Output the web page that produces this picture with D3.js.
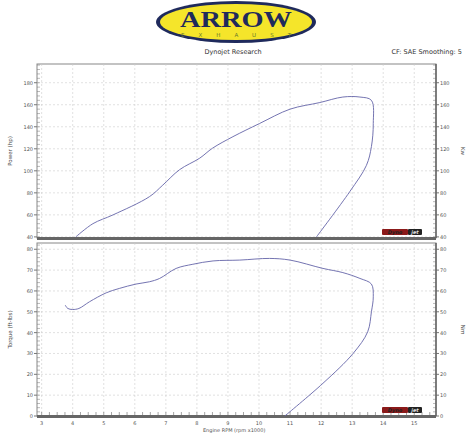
<!DOCTYPE html>
<html><head><meta charset="utf-8">
<script src="https://cdn.jsdelivr.net/npm/d3@7"></script>
<style>body{margin:0;background:#fff}svg{display:block}text{font-family:"DejaVu Sans",sans-serif}</style>
</head><body><div id="chart"></div>
<script>
// power curve (rpm x1000, hp), run up then return
const power_rpm = [4.1,4.65,5.3,6.47,6.9,7.44,8.09,8.5,9.16,10.02,11.0,11.96,12.7,13.25,13.62,13.68,13.62,13.46,12.92,11.85];
const power_hp  = [40,52,60,76.5,87,101,111.5,120.5,131,143,156,162,167,167,164,143,122,105,81,40];
// torque curve (rpm x1000, lb-ft)
const torque_rpm = [3.76,3.84,4.0,4.2,4.54,5.08,5.5,6.04,6.47,6.8,7.33,7.87,8.52,9.38,10.34,11.0,12.06,12.7,13.25,13.62,13.68,13.62,13.5,13.03,12.06,10.83];
const torque_lb  = [53.2,51.6,51.1,51.6,54.8,59.1,61.2,63.3,64.4,66,70.8,72.8,74.4,74.8,75.6,74.8,70.8,68.8,66,63.3,57.2,50,40.4,30,15.7,0];
const rpm_ticks = d3.range(3, 16);
const power_ticks = d3.range(40, 181, 20);
const torque_ticks = d3.range(0, 81, 10);

const W = 470, H = 440;
const svg = d3.select("#chart").append("svg").attr("width", W).attr("height", H);
const left = 37, right = 436;
const x = d3.scaleLinear().domain([2.85, 15.7]).range([left, right]);
const yP = d3.scaleLinear().domain([39, 197]).range([238, 64]);
const yT = d3.scaleLinear().domain([0, 83]).range([416, 243]);

// logo
const logo = svg.append("g").attr("transform", "translate(236,22)");
logo.append("ellipse").attr("rx", 80).attr("ry", 21).attr("fill", "#1f2a5c");
logo.append("ellipse").attr("rx", 76).attr("ry", 18).attr("fill", "#f5e52a");
logo.append("text").attr("y", 5).attr("text-anchor", "middle").style("font-family", "Liberation Serif")
  .attr("font-weight", "bold").attr("font-size", 24).attr("fill", "#1f2a5c").attr("textLength", 112)
  .attr("lengthAdjust", "spacingAndGlyphs").text("ARROW");
logo.append("text").attr("y", 15).attr("text-anchor", "middle").attr("font-size", 5.5).attr("fill", "#6b7a2a")
  .attr("textLength", 110).attr("lengthAdjust", "spacing").text("EXHAUST");

svg.append("text").attr("x", 233).attr("y", 54).attr("text-anchor", "middle").attr("font-size", 6.5).attr("fill", "#333").text("Dynojet Research");
svg.append("text").attr("x", 462).attr("y", 54).attr("text-anchor", "end").attr("font-size", 6.5).attr("fill", "#333").text("CF: SAE Smoothing: 5");

function panel(y, ticks, minor, rpms, vals, ylab, rlab, showX) {
  const g = svg.append("g");
  const [y0, y1] = y.range();
  g.append("rect").attr("x", left).attr("y", y1).attr("width", right - left).attr("height", y0 - y1)
    .attr("fill", "#fff").attr("stroke", "#888");
  g.selectAll(".vg").data(rpm_ticks).join("line").attr("x1", d => x(d)).attr("x2", d => x(d))
    .attr("y1", y1).attr("y2", y0).attr("stroke", "#ccc").attr("stroke-dasharray", "2 2").attr("stroke-width", 0.6);
  g.selectAll(".hg").data(ticks).join("line").attr("x1", left).attr("x2", right)
    .attr("y1", d => y(d)).attr("y2", d => y(d)).attr("stroke", "#ccc").attr("stroke-dasharray", "2 2").attr("stroke-width", 0.6);
  // minor ticks
  const mt = d3.range(y.domain()[0] - y.domain()[0] % minor + minor, y.domain()[1], minor);
  g.selectAll(".ml").data(mt).join("line").attr("x1", left).attr("x2", left + 3)
    .attr("y1", d => y(d)).attr("y2", d => y(d)).attr("stroke", "#777").attr("stroke-width", 0.5);
  g.selectAll(".mr").data(mt).join("line").attr("x1", right - 3).attr("x2", right)
    .attr("y1", d => y(d)).attr("y2", d => y(d)).attr("stroke", "#777").attr("stroke-width", 0.5);
  g.selectAll(".tl").data(ticks).join("text").attr("x", left - 4).attr("y", d => y(d) + 2)
    .attr("text-anchor", "end").attr("font-size", 5).attr("fill", "#555").text(d => d);
  g.selectAll(".tr").data(ticks).join("text").attr("x", right + 4).attr("y", d => y(d) + 2)
    .attr("font-size", 5).attr("fill", "#555").text(d => d);
  g.selectAll(".tkl").data(ticks).join("line").attr("x1", left - 3).attr("x2", left).attr("y1", d => y(d)).attr("y2", d => y(d)).attr("stroke", "#777");
  g.selectAll(".tkr").data(ticks).join("line").attr("x1", right).attr("x2", right + 3).attr("y1", d => y(d)).attr("y2", d => y(d)).attr("stroke", "#777");
  g.append("line").attr("x1", right).attr("x2", right).attr("y1", y1).attr("y2", y0).attr("stroke", "#666").attr("stroke-width", 1.5);
  g.append("text").attr("transform", `translate(12,${(y0 + y1) / 2}) rotate(-90)`).attr("text-anchor", "middle")
    .attr("font-size", 5.5).attr("fill", "#444").text(ylab);
  g.append("text").attr("transform", `translate(461,${(y0 + y1) / 2}) rotate(90)`).attr("text-anchor", "middle")
    .attr("font-size", 5.5).attr("fill", "#444").text(rlab);
  // bottom bar
  g.append("rect").attr("x", left).attr("y", y0 - 1).attr("width", right - left).attr("height", 3).attr("fill", "#666");
  if (showX) {
    g.selectAll(".xm").data(d3.range(3, 15.6, 0.25)).join("line").attr("x1", d => x(d)).attr("x2", d => x(d))
      .attr("y1", y0 - 4).attr("y2", y0).attr("stroke", "#666").attr("stroke-width", 0.6);
    g.selectAll(".xl").data(rpm_ticks).join("text").attr("x", d => x(d)).attr("y", y0 + 9)
      .attr("text-anchor", "middle").attr("font-size", 5).attr("fill", "#555").text(d => d);
  }
  // dynojet badge
  const b = g.append("g").attr("transform", `translate(382,${y0 - 9})`);
  b.append("rect").attr("width", 26).attr("height", 6).attr("fill", "#8b1a1a").attr("rx", 1);
  b.append("rect").attr("x", 26).attr("width", 14).attr("height", 6).attr("fill", "#222").attr("rx", 1);
  b.append("text").attr("x", 13).attr("y", 5).attr("text-anchor", "middle").attr("font-size", 5).attr("font-style", "italic")
    .attr("font-weight", "bold").attr("fill", "#222").text("Dyno");
  b.append("text").attr("x", 33).attr("y", 5).attr("text-anchor", "middle").attr("font-size", 5).attr("font-style", "italic")
    .attr("font-weight", "bold").attr("fill", "#ddd").text("jet");
  const pts = rpms.map((r, i) => [r, vals[i]]);
  g.append("path").datum(pts).attr("fill", "none").attr("stroke", "#6464a8").attr("stroke-width", 0.9)
    .attr("d", d3.line().x(d => x(d[0])).y(d => y(d[1])).curve(d3.curveCatmullRom.alpha(0.5)));
}
panel(yP, power_ticks, 4, power_rpm, power_hp, "Power (hp)", "Kw", false);
panel(yT, torque_ticks, 2, torque_rpm, torque_lb, "Torque (ft-lbs)", "Nm", true);
svg.append("text").attr("x", x(9.2)).attr("y", 432).attr("text-anchor", "middle").attr("font-size", 5).attr("fill", "#555").text("Engine RPM (rpm x1000)");
</script></body></html>
